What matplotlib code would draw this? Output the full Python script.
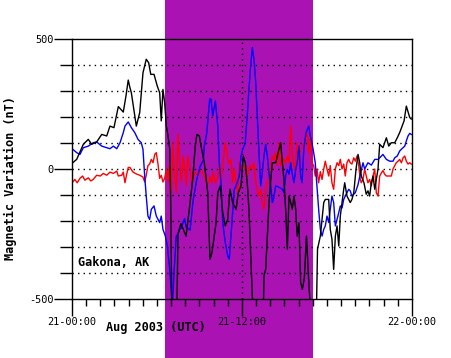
import matplotlib
matplotlib.use("Agg")
import matplotlib.pyplot as plt
import matplotlib.transforms as mtransforms
from matplotlib.patches import Rectangle

# ---- data (hours since 21 Aug 2003 00:00 UTC, nT) ----
black_t = [0.05, 0.33, 0.80, 1.15, 1.39, 1.74, 2.10, 2.45, 2.68, 2.96, 3.27, 3.62, 3.81, 3.97, 4.09,
           4.19, 4.54, 4.78, 5.01, 5.24, 5.41, 5.56, 5.79, 6.02, 6.19, 6.30, 6.42, 6.54, 6.66, 6.78,
           6.90, 6.96, 7.05, 7.40, 7.48, 7.69, 7.91, 8.05, 8.28, 8.52, 8.70, 8.82, 8.99, 9.11, 9.34,
           9.58, 9.74, 9.88, 10.17, 10.29, 10.47, 10.64, 10.82, 10.99, 11.15, 11.34, 11.58, 11.74,
           11.93, 12.09, 12.23, 12.37, 12.49, 12.61, 12.73, 12.85, 13.50, 13.55, 13.67, 13.79, 13.91,
           14.03, 14.14, 14.38, 14.61, 14.73, 14.85, 14.96, 15.08, 15.20, 15.32, 15.44, 15.55, 15.67,
           15.79, 15.90, 16.02, 16.14, 16.26, 16.40, 16.55, 16.70, 16.85, 17.25, 17.33, 17.53, 17.77,
           17.88, 18.12, 18.23, 18.35, 18.47, 18.59, 18.71, 18.83, 18.94, 19.06, 19.18, 19.25, 19.41,
           19.64, 19.76, 19.89, 20.05, 20.19, 20.31, 20.42, 20.61, 20.77, 20.89, 21.01, 21.13, 21.25,
           21.37, 21.48, 21.60, 21.72, 21.95, 22.07, 22.19, 22.36, 22.54, 22.78, 22.96, 23.13, 23.30,
           23.44, 23.60, 23.72, 23.84, 23.95]
black_v = [24, 37, 95, 114, 95, 104, 133, 127, 165, 159, 240, 219, 281, 342, 313,
           293, 165, 217, 370, 422, 409, 364, 364, 319, 293, 185, 306, 255, 165, 127,
           76, -100, -560, -560, -250, -210, -240, -258, -155, -40, 88, 133, 127, 88, 24,
           -91, -347, -322, -206, -91, -65, -168, -219, -194, -78, -129, -155, -91,
           -65, 50, 24, -53, -155, -322, -490, -560, -560, -411, -386, -258, -129,
           -40, 24, 24, 76, 101, 24, -40, -155, -308, -104, -129, -155, -104,
           -155, -258, -207, -437, -463, -420, -258, -420, -560, -560, -308, -258, -129,
           -117, -117, -232, -270, -386, -258, -219, -296, -181, -129, -78, -53, -104,
           -129, -117, -91, 0, 56, 24, -27, -53, -97, -84, -104, -53, -27,
           -78, -40, 0, 95, 82, 101, 120, 88, 101, 101, 120, 140, 165,
           185, 242, 220, 198, 192]

blue_t = [0.05, 0.33, 0.56, 0.80, 1.15, 1.50, 1.74, 2.10, 2.45, 2.68, 2.92, 3.16, 3.39, 3.62, 3.74,
          3.97, 4.19, 4.43, 4.66, 4.89, 5.01, 5.13, 5.24, 5.36, 5.48, 5.60, 5.79, 5.95, 6.19, 6.30,
          6.42, 6.59, 6.73, 6.90, 7.01, 7.08, 7.20, 7.36, 7.48, 7.60, 7.72, 7.84, 7.95, 8.05, 8.33,
          8.56, 8.80, 9.04, 9.27, 9.34, 9.51, 9.72, 9.81, 9.93, 10.12, 10.29, 10.40, 10.52, 10.64,
          10.82, 10.99, 11.10, 11.22, 11.34, 11.45, 11.58, 11.81, 11.93, 12.05, 12.23, 12.26, 12.37,
          12.49, 12.61, 12.73, 12.85, 12.97, 13.08, 13.20, 13.32, 13.43, 13.55, 13.67, 13.79, 13.91,
          14.03, 14.14, 14.21, 14.38, 14.61, 14.85, 14.96, 15.08, 15.20, 15.32, 15.44, 15.55, 15.67,
          15.79, 15.90, 16.02, 16.14, 16.24, 16.36, 16.52, 16.71, 16.82, 16.94, 17.06, 17.17, 17.29,
          17.41, 17.53, 17.65, 17.77, 17.88, 18.00, 18.12, 18.23, 18.35, 18.47, 18.59, 18.71, 18.83,
          18.94, 19.06, 19.18, 19.29, 19.53, 19.64, 19.76, 20.00, 20.19, 20.35, 20.54, 20.66, 20.89,
          21.13, 21.37, 21.60, 21.72, 21.95, 22.19, 22.43, 22.66, 22.78, 22.96, 23.13, 23.25, 23.49,
          23.60, 23.72, 23.84, 23.95]
blue_v = [76, 63, 56, 82, 88, 101, 104, 88, 82, 78, 88, 78, 101, 140, 165,
          181, 159, 140, 114, 101, 76, -27, -104, -181, -194, -155, -142, -181, -206, -181,
          -232, -258, -296, -386, -476, -530, -400, -258, -250, -232, -226, -206, -190, -222, -235,
          -117, -42, 9, 35, 88, 137, 269, 269, 204, 262, 165, 24, -60, -206,
          -283, -334, -347, -260, -168, -80, -65, -27, 50, 76, 101, 127, 204,
          306, 396, 467, 420, 330, 201, 63, -65, -14, 50, 95, 50, -20,
          -65, -129, -119, -65, -70, -78, -91, -27, -1, -20, 24, -20, -53,
          -1, 24, 88, -27, -53, 76, 140, 165, 127, 101, 63, 24, -65,
          -155, -232, -258, -232, -219, -181, -206, -155, -104, -129, -219, -194, -168,
          -142, -150, -117, -104, -78, -84, -104, -91, -60, -20, 24, 0, 24,
          15, 37, 37, 43, 56, 37, 30, 30, 43, 50, 69, 76, 88,
          108, 127, 137, 133]

red_t = [0.05, 0.20, 0.37, 0.56, 0.75, 0.91, 1.15, 1.33, 1.50, 1.74, 2.00, 2.21, 2.45, 2.68, 2.92,
         3.16, 3.27, 3.51, 3.62, 3.74, 3.86, 3.97, 4.09, 4.31, 4.54, 4.78, 5.01, 5.13, 5.24, 5.36,
         5.48, 5.60, 5.72, 5.84, 5.95, 6.07, 6.19, 6.30, 6.42, 6.54, 6.66, 6.78, 6.90, 7.01, 7.13,
         7.25, 7.36, 7.48, 7.60, 7.72, 7.84, 7.96, 8.07, 8.17, 8.33, 8.47, 8.56, 8.70, 8.85, 9.11,
         9.34, 9.51, 9.65, 9.74, 9.88, 9.97, 10.12, 10.29, 10.40, 10.52, 10.68, 10.82, 10.92, 11.05,
         11.22, 11.34, 11.45, 11.58, 11.70, 11.81, 11.93, 12.09, 12.23, 12.26, 12.37, 12.49, 12.61,
         12.73, 12.85, 12.97, 13.08, 13.20, 13.32, 13.43, 13.55, 13.67, 13.79, 13.91, 14.03, 14.14,
         14.26, 14.38, 14.49, 14.61, 14.73, 14.85, 14.96, 15.08, 15.20, 15.32, 15.44, 15.55, 15.67,
         15.79, 15.90, 16.02, 16.14, 16.26, 16.36, 16.47, 16.59, 16.71, 16.82, 16.94, 17.06, 17.17,
         17.29, 17.41, 17.53, 17.65, 17.77, 17.88, 18.00, 18.12, 18.23, 18.35, 18.47, 18.59, 18.71,
         18.83, 18.94, 19.06, 19.18, 19.29, 19.41, 19.53, 19.64, 19.76, 19.89, 20.00, 20.12, 20.24,
         20.35, 20.42, 20.54, 20.66, 20.77, 20.89, 21.01, 21.13, 21.25, 21.37, 21.48, 21.60, 21.72,
         21.84, 21.95, 22.07, 22.19, 22.36, 22.54, 22.66, 22.78, 22.89, 23.01, 23.13, 23.25, 23.37,
         23.49, 23.60, 23.72, 23.84, 23.95]
red_v = [-50, -40, -53, -36, -27, -43, -34, -46, -40, -24, -27, -17, -24, -12, -17,
         -8, -27, -24, -12, -53, -20, 6, 6, -12, -19, -24, -31, -50, -24, 13,
         19, 37, 24, 56, 63, 19, -36, -24, -50, -36, 0, -50, 24, -91, 101,
         -24, -91, 133, 37, -50, 50, 0, -65, 50, 0, -53, -30, -12, -25, -6,
         -27, -53, -53, -27, -53, -12, -53, -27, 24, -53, 37, 101, 63, 20,
         37, -53, 0, -53, -91, 24, 0, 13, 0, 13, -27, 0, 13,
         0, 24, -53, -78, -104, -78, -129, -155, -78, -53, -27, 13, 50,
         35, 63, 13, 101, 13, 24, 37, 24, 50, 24, 165, 63, 0,
         24, 101, 24, 76, 88, 88, 114, 140, 63, 127, 24, 13, -27,
         0, -53, -10, -40, 0, 30, 0, -27, 13, -53, -78, 0, 24,
         13, 37, 0, 19, -27, 24, 37, 24, 19, 43, 30, 50, 13,
         -40, -53, -40, 0, -27, -53, -40, -65, -27, 0, -91, -104, -27,
         -15, -6, -20, -27, -27, -27, 0, 13, 24, 30, 37, 24, 43,
         50, 30, 19, 24, 19]

shade_span = [6.6, 17.0]
x_ticks = [0, 12, 24]
x_ticklabels = ["21-00:00", "21-12:00", "22-00:00"]
y_ticks = [-500, 0, 500]
y_ticklabels = ["-500", "0", "500"]
station = "Gakona, AK"

# ---- figure ----
W, H = 452, 358
fig = plt.figure(figsize=(W / 100, H / 100), dpi=100)
fig.patch.set_facecolor("white")
ax = fig.add_axes([72 / W, 59 / H, 340 / W, 260 / H])
ax.set_xlim(0, 24)
ax.set_ylim(-500, 500)
ax.set_facecolor("none")
ax.set_zorder(1)

mono = "DejaVu Sans Mono"

# shaded (full figure height) band, drawn behind the axes
trans = mtransforms.blended_transform_factory(ax.transData, fig.transFigure)
rect = Rectangle((shade_span[0], 0), shade_span[1] - shade_span[0], 1, transform=trans,
                 facecolor="#ab12b4", edgecolor="none", zorder=-5, clip_on=False)
fig.patches.append(rect)

# grid
for yv in range(-400, 500, 100):
    ax.axhline(yv, color="black", lw=1.0, ls=(0, (1, 3)), zorder=1)
ax.axvline(12, color="black", lw=1.0, ls=(0, (1, 3)), zorder=1)

ax.plot(red_t, red_v, color="#ff0000", lw=1.0, zorder=3)
ax.plot(blue_t, blue_v, color="#0000ff", lw=1.0, zorder=4)
ax.plot(black_t, black_v, color="black", lw=1.0, zorder=5)

for s in ax.spines.values():
    s.set_linewidth(1.0)
    s.set_zorder(6)

# ticks
ax.set_xticks(x_ticks)
ax.set_xticklabels(x_ticklabels, fontfamily=mono, fontsize=7.4)
ax.set_xticks(range(0, 25), minor=True)
ax.set_yticks(y_ticks)
ax.set_yticklabels(y_ticklabels, fontfamily=mono, fontsize=7.4)
ax.set_yticks(range(-500, 501, 100), minor=True)
ax.tick_params(axis="x", which="major", direction="out", length=12, width=1, pad=1)
ax.tick_params(axis="x", which="minor", direction="out", length=5, width=1)
ax.tick_params(axis="y", which="major", direction="out", length=13, width=1, pad=0)
ax.tick_params(axis="y", which="minor", direction="out", length=9, width=1)

ax.text(0.42, -358, station, fontfamily=mono, fontsize=8.6, fontweight="bold",
        ha="left", va="center", zorder=7)

fig.text(155.5 / W, 1 - 328 / H, "Aug 2003 (UTC)", fontfamily=mono, fontsize=8.6,
         fontweight="bold", ha="center", va="center", zorder=10)
fig.text(10 / W, 1 - 178 / H, "Magnetic Variation (nT)", fontfamily=mono, fontsize=8.6,
         fontweight="bold", ha="center", va="center", rotation=90)

fig.savefig("out.png", dpi=100)
